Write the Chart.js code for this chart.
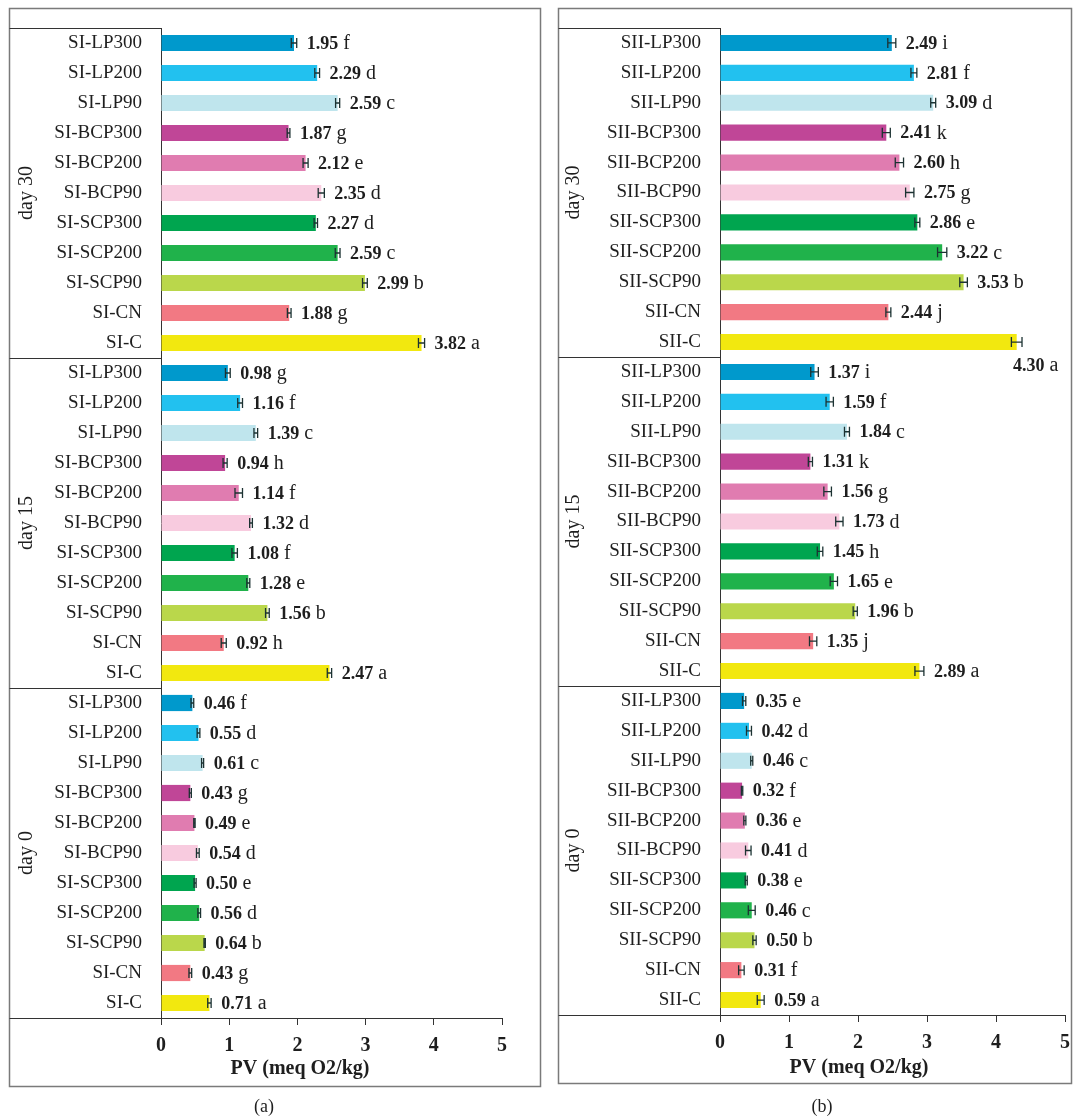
<!DOCTYPE html>
<html>
<head>
<meta charset="utf-8">
<script src="https://cdn.jsdelivr.net/npm/chart.js@4/dist/chart.umd.min.js"></script>
<style>
  html, body { margin: 0; padding: 0; background: #ffffff; }
  body { width: 1073px; height: 1117px; position: relative; overflow: hidden; }
  .panel { position: absolute; top: 0; }
</style>
</head>
<body>
<div class="panel" style="left:0;width:550px;height:1117px"><canvas id="chartA" width="550" height="1117"></canvas></div>
<div class="panel" style="left:550px;width:523px;height:1117px"><canvas id="chartB" width="523" height="1117"></canvas></div>
<script>
// Treatments listed top to bottom inside each storage-day block
const treatments = ["LP300", "LP200", "LP90", "BCP300", "BCP200", "BCP90", "SCP300", "SCP200", "SCP90", "CN", "C"];
const days = ["day 30", "day 15", "day 0"];
const treatmentColors = ["#0099cc", "#22c1ef", "#bfe5ed", "#c04697", "#e07cb0", "#f8cbdf", "#00a54f", "#20b24b", "#bad74b", "#f27983", "#f2e80f"];
const xTicks = [0, 1, 2, 3, 4, 5];
const xTitle = "PV (meq O2/kg)";

// Sample SI: peroxide value (mean), standard deviation and significance letter
const siDay30 = [1.95, 2.29, 2.59, 1.87, 2.12, 2.35, 2.27, 2.59, 2.99, 1.88, 3.82];
const siDay15 = [0.98, 1.16, 1.39, 0.94, 1.14, 1.32, 1.08, 1.28, 1.56, 0.92, 2.47];
const siDay0  = [0.46, 0.55, 0.61, 0.43, 0.49, 0.54, 0.50, 0.56, 0.64, 0.43, 0.71];
const siSdDay30 = [0.04, 0.035, 0.03, 0.02, 0.037, 0.045, 0.025, 0.035, 0.035, 0.027, 0.045];
const siSdDay15 = [0.035, 0.035, 0.027, 0.03, 0.055, 0.02, 0.04, 0.022, 0.027, 0.037, 0.032];
const siSdDay0  = [0.02, 0.02, 0.015, 0.015, 0.01, 0.02, 0.015, 0.02, 0.01, 0.02, 0.025];
const siLetters30 = ["f", "d", "c", "g", "e", "d", "d", "c", "b", "g", "a"];
const siLetters15 = ["g", "f", "c", "h", "f", "d", "f", "e", "b", "h", "a"];
const siLetters0  = ["f", "d", "c", "g", "e", "d", "e", "d", "b", "g", "a"];

// Sample SII
const siiDay30 = [2.49, 2.81, 3.09, 2.41, 2.60, 2.75, 2.86, 3.22, 3.53, 2.44, 4.30];
const siiDay15 = [1.37, 1.59, 1.84, 1.31, 1.56, 1.73, 1.45, 1.65, 1.96, 1.35, 2.89];
const siiDay0  = [0.35, 0.42, 0.46, 0.32, 0.36, 0.41, 0.38, 0.46, 0.50, 0.31, 0.59];
const siiSdDay30 = [0.058, 0.043, 0.036, 0.058, 0.06, 0.06, 0.036, 0.067, 0.055, 0.036, 0.077];
const siiSdDay15 = [0.055, 0.053, 0.036, 0.03, 0.055, 0.053, 0.04, 0.053, 0.03, 0.053, 0.065];
const siiSdDay0  = [0.024, 0.036, 0.015, 0.01, 0.015, 0.04, 0.015, 0.05, 0.024, 0.04, 0.05];
const siiLetters30 = ["i", "f", "d", "k", "h", "g", "e", "c", "b", "j", "a"];
const siiLetters15 = ["i", "f", "c", "k", "g", "d", "h", "e", "b", "j", "a"];
const siiLetters0  = ["e", "d", "c", "f", "e", "d", "e", "c", "b", "f", "a"];

const SERIF = '"Liberation Serif", "DejaVu Serif", serif';
const INK = "#1e1e1e";

// Decorations drawn on top of the bars: frame, day blocks, error bars, value labels
const panelDecor = {
  id: "panelDecor",
  afterDraw(chart, args, o) {
    const ctx = chart.ctx;
    const area = chart.chartArea;
    const xs = chart.scales.x;
    const meta = chart.getDatasetMeta(0);
    const rowH = (area.bottom - area.top) / chart.data.labels.length;
    ctx.save();

    // outer frame of the panel
    ctx.strokeStyle = "#7a7a7a";
    ctx.lineWidth = 1.5;
    ctx.strokeRect(o.frame[0], o.frame[1], o.frame[2] - o.frame[0], o.frame[3] - o.frame[1]);

    // label box: top rule, block separators, axis extension to the frame
    ctx.strokeStyle = "#333333";
    ctx.lineWidth = 1;
    ctx.beginPath();
    ctx.moveTo(o.frame[0], area.top + 0.5);
    ctx.lineTo(area.left, area.top + 0.5);
    for (let g = 1; g < days.length; g++) {
      const y = Math.round(area.top + g * treatments.length * rowH) + 0.5;
      ctx.moveTo(o.frame[0], y);
      ctx.lineTo(area.left, y);
    }
    ctx.moveTo(o.frame[0], Math.round(area.bottom) + 0.5);
    ctx.lineTo(area.left, Math.round(area.bottom) + 0.5);
    ctx.stroke();

    // rotated day labels, centred on each block
    ctx.fillStyle = INK;
    ctx.font = "20px " + SERIF;
    ctx.textAlign = "center";
    ctx.textBaseline = "middle";
    days.forEach((d, g) => {
      const yc = area.top + (g + 0.5) * treatments.length * rowH;
      ctx.save();
      ctx.translate(o.dayX, yc);
      ctx.rotate(-Math.PI / 2);
      ctx.fillText(d, 0, 0);
      ctx.restore();
    });

    // error bars
    const values = chart.data.datasets[0].data;
    ctx.strokeStyle = "#1c3232";
    ctx.lineWidth = 1.3;
    values.forEach((v, i) => {
      const y = meta.data[i].y;
      const x1 = xs.getPixelForValue(v - o.sd[i]);
      const x2 = xs.getPixelForValue(v + o.sd[i]);
      ctx.beginPath();
      ctx.moveTo(x1, y); ctx.lineTo(x2, y);
      ctx.moveTo(x1, y - 5); ctx.lineTo(x1, y + 5);
      ctx.moveTo(x2, y - 5); ctx.lineTo(x2, y + 5);
      ctx.stroke();
    });

    // value (bold) + significance letter
    ctx.textAlign = "left";
    ctx.textBaseline = "middle";
    values.forEach((v, i) => {
      const y = meta.data[i].y;
      const errEnd = xs.getPixelForValue(v + o.sd[i]);
      const num = v.toFixed(2);
      ctx.font = "bold 18px " + SERIF;
      const wNum = ctx.measureText(num).width;
      ctx.font = "20px " + SERIF;
      const wLet = ctx.measureText(o.letters[i]).width;
      let x = errEnd + 10;
      let ty = y + 1;
      if (x + wNum + 5 + wLet > o.frame[2] - 4) {
        // not enough room to the right: drop the label under the bar
        x = errEnd - 9;
        ty = y + 24;
      }
      ctx.font = "bold 18px " + SERIF;
      ctx.fillText(num, x, ty);
      ctx.font = "20px " + SERIF;
      ctx.fillText(o.letters[i], x + wNum + 5, ty);
    });

    // axis title and panel caption
    ctx.textAlign = "center";
    ctx.font = "bold 20px " + SERIF;
    ctx.fillText(xTitle, o.titleX, o.titleY);
    ctx.font = "18px " + SERIF;
    ctx.fillText(o.caption, o.captionX, o.captionY);
    ctx.restore();
  }
};

function makePanel(canvasId, prefix, vals, sds, letters, geo) {
  const labels = [];
  days.forEach(() => treatments.forEach(t => labels.push(prefix + t)));
  const colors = [];
  days.forEach(() => treatmentColors.forEach(c => colors.push(c)));
  const canvas = document.getElementById(canvasId);
  return new Chart(canvas, {
    type: "bar",
    data: {
      labels: labels,
      datasets: [{
        data: vals,
        backgroundColor: colors,
        borderWidth: 0,
        barPercentage: 0.54,
        categoryPercentage: 1.0
      }]
    },
    options: {
      indexAxis: "y",
      responsive: false,
      animation: false,
      devicePixelRatio: 1,
      layout: { padding: { top: geo.top, right: geo.padRight, left: 0, bottom: 0 } },
      plugins: {
        legend: { display: false },
        tooltip: { enabled: false },
        panelDecor: {
          frame: geo.frame, dayX: geo.dayX, sd: sds, letters: letters,
          titleX: geo.titleX, titleY: geo.titleY,
          caption: geo.caption, captionX: geo.captionX, captionY: geo.captionY
        }
      },
      scales: {
        x: {
          type: "linear",
          min: xTicks[0],
          max: xTicks[xTicks.length - 1],
          afterBuildTicks: s => { s.ticks = xTicks.map(v => ({ value: v })); },
          afterFit: s => { s.height = geo.xAxisHeight; s.paddingLeft = 0; s.paddingRight = 0; },
          grid: { display: true, drawOnChartArea: false, drawTicks: true, tickLength: 7, color: "#333333", lineWidth: 1 },
          border: { display: true, color: "#333333", width: 1 },
          ticks: { color: INK, font: { family: SERIF, size: 20, weight: "bold" }, padding: 9, maxRotation: 0 }
        },
        y: {
          type: "category",
          afterFit: s => { s.width = geo.axisX; s.paddingTop = 0; s.paddingBottom = 0; },
          grid: { display: false, drawTicks: false },
          border: { display: true, color: "#333333", width: 1 },
          ticks: { color: INK, font: { family: SERIF, size: 19 }, padding: 19, autoSkip: false }
        }
      }
    },
    plugins: [panelDecor]
  });
}

makePanel("chartA", "SI-",
  siDay30.concat(siDay15, siDay0),
  siSdDay30.concat(siSdDay15, siSdDay0),
  siLetters30.concat(siLetters15, siLetters0),
  { top: 28, padRight: 48, axisX: 161, xAxisHeight: 1117 - 1018,
    frame: [9.5, 8.5, 540.5, 1086.5], dayX: 27,
    titleX: 300, titleY: 1069, caption: "(a)", captionX: 264, captionY: 1107 });

makePanel("chartB", "SII-",
  siiDay30.concat(siiDay15, siiDay0),
  siiSdDay30.concat(siiSdDay15, siiSdDay0),
  siiLetters30.concat(siiLetters15, siiLetters0),
  { top: 28, padRight: 8, axisX: 170, xAxisHeight: 1117 - 1015,
    frame: [8.5, 8.5, 521.5, 1083.5], dayX: 24,
    titleX: 309, titleY: 1068, caption: "(b)", captionX: 272, captionY: 1107 });
</script>
</body>
</html>
